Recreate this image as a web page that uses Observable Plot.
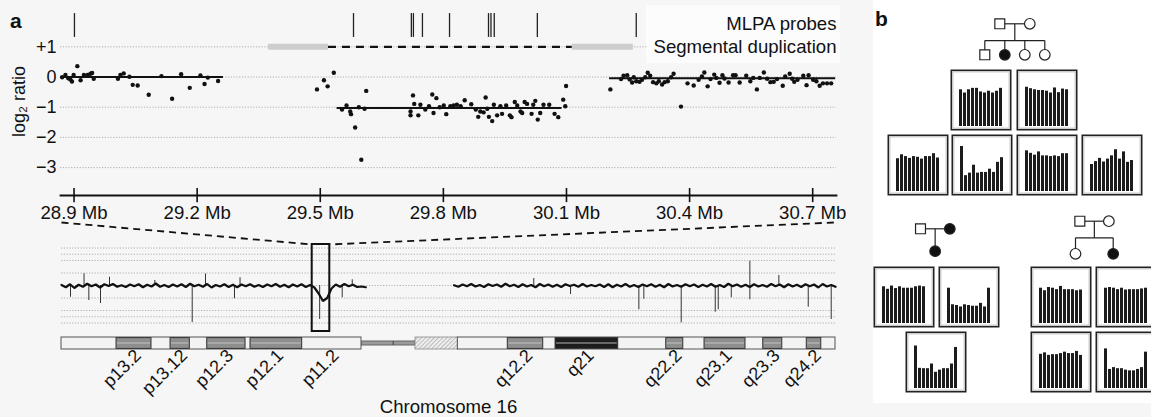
<!DOCTYPE html>
<html><head><meta charset="utf-8">
<script src="https://cdn.jsdelivr.net/npm/d3@7"></script>
<script src="https://cdn.jsdelivr.net/npm/@observablehq/plot@0.6"></script>
<style>
html,body{margin:0;padding:0;background:#f6f6f6;}
#fig{position:relative;width:1151px;height:417px;overflow:hidden;font-family:"Liberation Sans",Arial,Helvetica,sans-serif;}
#fig svg{overflow:visible;}
.lab{position:absolute;font-weight:900;font-size:21px;line-height:1;color:#111;}
.bg{position:absolute;background:#fff;}
</style></head><body><div id="fig"></div>
<script>
// ---------- DATA ----------
// top panel: array CGH probes (position in Mb, log2 ratio)
const probeMb = [28.871,28.879,28.886,28.891,28.895,28.899,28.908,28.916,28.924,28.933,28.940,28.944,28.948,29.007,29.013,29.021,29.035,29.043,29.055,29.082,29.113,29.139,29.161,29.182,29.208,29.218,29.226,29.251,
29.492,29.509,29.518,29.533,29.553,29.564,29.573,29.575,29.585,29.594,29.600,29.608,29.612,29.720,29.720,29.726,29.729,29.739,29.744,29.756,29.765,29.773,29.776,29.783,29.791,29.801,29.807,29.817,29.825,29.833,29.842,29.852,29.868,29.879,29.885,29.890,29.898,29.903,29.907,29.911,29.919,29.923,29.931,29.939,29.943,29.953,29.962,29.966,29.974,29.980,29.988,29.992,29.998,30.004,30.015,30.019,30.024,30.030,30.036,30.044,30.058,30.071,30.080,30.092,30.097,30.099,
30.207,30.233,30.239,30.248,30.254,30.260,30.264,30.270,30.278,30.284,30.292,30.298,30.304,30.311,30.319,30.325,30.333,30.339,30.347,30.355,30.361,30.379,30.395,30.410,30.422,30.430,30.436,30.444,30.451,30.460,30.465,30.473,30.480,30.485,30.495,30.506,30.512,30.522,30.538,30.548,30.555,30.564,30.571,30.581,30.589,30.597,30.605,30.613,30.627,30.633,30.644,30.650,30.655,30.663,30.677,30.685,30.690,30.701,30.709,30.717,30.725,30.735,30.745];
const probeLog2 = [-0.01,0.07,-0.04,-0.08,-0.15,0.07,0.36,-0.11,0.07,0.07,0.11,0.13,-0.06,-0.06,0.07,0.12,0.01,-0.26,-0.28,-0.59,0.03,-0.72,0.09,-0.36,0.05,-0.23,-0.02,-0.13,
-0.41,-0.11,-0.31,0.14,-1.08,-0.94,-1.14,-1.23,-1.67,-1.00,-2.74,-1.05,-0.46,-1.14,-1.27,-0.61,-0.89,-1.27,-0.92,-1.08,-0.97,-0.58,-1.19,-0.70,-1.00,-0.94,-1.23,-0.97,-0.94,-0.92,-0.97,-0.77,-0.90,-1.08,-1.32,-1.14,-1.17,-0.68,-1.05,-1.32,-1.46,-0.92,-1.27,-0.97,-1.22,-0.94,-1.27,-1.33,-0.83,-0.94,-1.14,-1.19,-0.83,-0.89,-1.22,-0.92,-0.79,-1.41,-1.19,-0.92,-0.92,-1.22,-1.33,-0.75,-0.97,-0.30,
-0.41,-0.07,0.04,0.06,-0.08,-0.18,-0.01,-0.14,-0.16,-0.09,-0.01,0.14,0.04,-0.17,-0.21,-0.14,-0.25,-0.17,-0.14,-0.01,0.11,-0.98,-0.21,-0.28,-0.09,0.02,0.15,-0.31,-0.07,0.08,-0.03,-0.19,0.06,-0.05,-0.18,0.06,0.06,-0.18,0.04,-0.14,-0.03,-0.41,-0.03,0.15,-0.06,-0.17,-0.16,-0.07,-0.29,0.02,0.11,-0.06,-0.16,-0.09,0.04,-0.27,0.06,-0.09,-0.14,-0.29,-0.21,-0.21,-0.21];
// segmentation means
const segStart = [28.869, 29.541, 30.205];
const segEnd   = [29.264, 30.089, 30.756];
const segMean  = [0, -1.03, -0.04];
// MLPA probe positions (Mb)
const mlpaMb = [28.901, 29.581, 29.722, 29.727, 29.749, 29.815, 29.910, 29.916, 29.924, 30.029, 30.270];
// segmental duplications (Mb) and the deleted span between them
const segdupStart = [29.374, 30.114];
const segdupEnd   = [29.520, 30.263];
const delSpan = [29.520, 30.114];
const xTicksMb = [28.9, 29.2, 29.5, 29.8, 30.1, 30.4, 30.7];
const yTicksLog2 = [1, 0, -1, -2, -3];
const trackNames = ["MLPA probes", "Segmental duplication"];
const trackLevels = [1.74, 1.0];

// chromosome 16 overview trace (Mb, log2 ratio), sampled every 0.5 Mb
const pArmStart = 0, qArmStart = 45.8, traceStep = 0.5;
const pArmLog2 = [0.02,-0.07,0.05,-0.10,0.03,-0.05,0.07,-0.03,0.04,-0.08,
0.05,-0.02,0.06,-0.05,0.01,-0.06,0.04,-0.03,0.05,-0.07,
0.03,-0.04,0.08,-0.05,0.02,-0.06,0.04,-0.04,0.05,-0.06,
0.07,-0.03,0.03,-0.05,0.06,-0.08,0.02,-0.04,0.05,-0.06,
0.03,-0.07,0.04,-0.03,0.05,-0.05,0.02,-0.06,0.04,-0.03,
0.06,-0.05,0.03,-0.07,0.04,-0.04,0.05,-0.06,0.02,-0.08,
-0.32,-0.62,-0.50,-0.12,0.04,-0.05,0.06,-0.03,0.03,-0.06,
-0.04,-0.07];
const qArmLog2 = [0.01,-0.05,0.04,-0.03,0.06,-0.04,0.02,-0.06,0.05,-0.02,
0.04,-0.05,0.07,-0.03,0.03,-0.06,0.05,-0.04,0.02,-0.07,
0.06,-0.03,0.04,-0.05,0.03,-0.06,0.05,-0.02,0.03,-0.05,
0.06,-0.04,0.02,-0.03,0.04,-0.06,0.05,-0.07,0.03,-0.04,
0.06,-0.05,0.02,-0.06,0.04,-0.03,0.05,-0.05,0.03,-0.07,
0.06,-0.04,0.02,-0.05,0.05,-0.03,0.04,-0.06,0.03,-0.04,
0.06,-0.05,0.02,-0.06,0.07,-0.03,0.04,-0.05,0.03,-0.06,
0.05,-0.04,0.02,-0.05,0.06,-0.03,0.04,-0.07,0.05,-0.04,
0.03,-0.06,0.05,-0.03,0.04,-0.08,0.06,-0.04,0.02,-0.05];
const spikeMb   = [1.05,2.63,3.19,4.55,5.60,10.89,15.25,16.80,20.18,20.83,30.12,32.75,33.92,55.1,59.39,67.36,67.94,72.30,76.27,76.62,78.14,80.31,80.31,83.69,87.12,89.80];
const spikeLog2 = [-0.47,0.47,-0.60,-0.72,0.33,0.20,-1.48,0.46,-0.53,0.31,-1.36,-0.49,0.23,0.28,-0.36,-0.97,-0.55,-1.49,-1.07,-0.97,-0.49,0.97,-0.57,0.40,-0.87,-1.36];
const traceGrid = [1.5, 1.25, 1, 0.5, 0, -0.5, -1, -1.25, -1.5];
const chrLength = 90.3;
const zoomRegion = [29.25, 31.3];

// ideogram (Mb)
const armStart = [0, 46.24], armEnd = [35.0, 90.3];
const cenStart = 35.0, cenEnd = 41.3, hetEnd = 46.24;
const bandName  = ["p13.2","p13.12","p12.3","p12.1","p11.2","q12.2","q21","q22.2","q23.1","q23.3","q24.2"];
const bandStart = [6.42, 12.72, 17.0, 22.05, 28.08, 52.07, 57.64, 70.55, 75.02, 81.87, 86.95];
const bandEnd   = [10.5, 14.97, 21.47, 28.08, 35.0, 56.2, 64.95, 72.54, 79.8, 84.09, 88.64];
const bandStain = ["gpos","gpos","gpos","gpos","gneg","gpos","gpos100","gpos","gpos","gpos","gpos"];

// panel b: MLPA relative probe ratios (11 probes per individual)
const fam1Father  = [1.02,0.93,1.02,1.06,1.06,0.96,0.93,0.98,0.93,0.98,1.06];
const fam1Mother  = [1.09,1.05,1.02,1.00,1.00,0.98,0.93,1.07,0.94,1.04,1.02];
const fam1Son     = [0.91,1.02,0.97,0.92,0.97,0.95,0.90,0.97,0.97,1.05,0.93];
const fam1Proband = [1.25,0.44,0.51,0.73,0.51,0.53,0.53,0.62,0.53,0.81,0.94];
const fam1Dau2    = [1.13,1.06,1.01,1.10,0.99,0.99,0.97,0.99,0.97,1.05,1.05];
const fam1Dau3    = [0.75,0.83,0.92,0.82,0.90,0.99,1.16,0.90,1.10,0.81,0.86];
const fam2Father  = [1.02,0.95,1.04,0.97,1.02,0.98,0.98,0.98,1.02,1.04,1.02];
const fam2Mother  = [0.98,0.52,0.50,0.46,0.52,0.50,0.48,0.48,0.56,0.46,0.98];
const fam2Child   = [1.18,0.56,0.55,0.55,0.68,0.45,0.51,0.55,0.55,0.68,1.14];
const fam3Father  = [0.98,0.91,1.00,0.98,0.94,1.03,0.94,0.94,0.94,0.91,0.93];
const fam3Mother  = [0.98,1.00,0.98,0.94,0.98,0.93,0.94,0.94,0.94,0.96,0.98];
const fam3Child1  = [0.95,0.99,0.92,0.94,0.94,0.97,1.01,0.97,0.97,1.03,0.92];
const fam3Child2  = [1.10,0.53,0.58,0.55,0.55,0.51,0.49,0.49,0.53,0.58,1.01];

// pedigrees: position in sibship units, generation, sex, affected
const ped1 = [{x:0.75,g:0,sex:"M"},{x:2.25,g:0,sex:"F"},{x:0,g:1,sex:"M"},{x:1,g:1,sex:"F",aff:true},{x:2,g:1,sex:"F"},{x:3,g:1,sex:"F"}];
const ped2 = [{x:0,g:0,sex:"M"},{x:1,g:0,sex:"F",aff:true},{x:0.5,g:1,sex:"F",aff:true}];
const ped3 = [{x:0.115,g:0,sex:"M"},{x:0.885,g:0,sex:"F"},{x:0,g:1,sex:"F"},{x:1,g:1,sex:"F",aff:true}];

// ---------- LAYOUT / RENDER ----------
const fig = document.getElementById("fig");
const FONT = "Liberation Sans, Arial, Helvetica, sans-serif";
const baseStyle = {background:"transparent", fontFamily:FONT, overflow:"visible", color:"#111"};
function place(el, left, top){ el.style.position="absolute"; el.style.left=left+"px"; el.style.top=top+"px"; el.style.maxWidth="none"; fig.appendChild(el); return el; }
function div(cls, left, top, w, h, txt){ const d=document.createElement("div"); d.className=cls; if(w!=null){d.style.width=w+"px"; d.style.height=h+"px";} if(txt) d.textContent=txt; return place(d,left,top); }

div("bg", 873, 0, 278, 403);
const lb = div("bg", 646, 5, 194, 58); lb.style.background="#fcfcfc";

const dotted = {stroke:"#a8a8a8", strokeWidth:0.9, strokeDasharray:"1.2,1.6"};
const xLo = 28.867, xHi = 30.758;
const pts = probeMb.map((p,i)=>({p, v:probeLog2[i]}));
const segs = segStart.map((s,i)=>({s, e:segEnd[i], m:segMean[i]}));
const sdups = segdupStart.map((s,i)=>({s, e:segdupEnd[i]}));
const tracks = trackNames.map((n,i)=>({n, y:trackLevels[i]}));

const topPlot = Plot.plot({
  width:850, height:225, marginLeft:60, marginRight:14, marginTop:0, marginBottom:30,
  style:{...baseStyle, fontSize:"16px"},
  x:{domain:[xLo,xHi]},
  y:{domain:[-3,1], range:[167.1,46.3]},
  marks:[
    Plot.ruleY(yTicksLog2.filter(v=>v!==1), {x1:xLo, x2:xHi, ...dotted}),
    Plot.ruleY([1], {x1:xLo, x2:segdupEnd[1]+0.037, ...dotted}),
    Plot.ruleX(mlpaMb, {y1:1.31, y2:2.10, stroke:"#222", strokeWidth:1.3}),
    Plot.ruleY(sdups, {x1:"s", x2:"e", y:1, stroke:"#cdcdcd", strokeWidth:6}),
    Plot.ruleY([delSpan], {x1:d=>d[0], x2:d=>d[1], y:1, stroke:"#111", strokeWidth:2.2, strokeDasharray:"8,6"}),
    Plot.text(tracks, {y:"y", text:"n", frameAnchor:"right", textAnchor:"end", fontSize:18.6, fill:"#111"}),
    Plot.ruleY(segs, {x1:"s", x2:"e", y:"m", stroke:"#111", strokeWidth:2}),
    Plot.dot(pts, {x:"p", y:"v", r:2.2, fill:"#111"}),
    Plot.axisY(yTicksLog2, {tickSize:0, tickPadding:4, fontSize:18, label:null,
      tickFormat:d=> d>0 ? "+"+d : d<0 ? "\u2212"+(-d) : "0"}),
    Plot.text(["log\u2082 ratio"], {frameAnchor:"left", y:-0.81, dx:-41, rotate:-90, textAnchor:"middle", fontSize:18}),
    Plot.frame({anchor:"bottom", strokeWidth:1.8, stroke:"#111"}),
    Plot.ruleX(xTicksMb, {y1:-3.69, y2:-4.16, stroke:"#111", strokeWidth:1.6}),
    Plot.axisX(xTicksMb, {tickSize:0, tickPadding:10, fontSize:18.6, label:null, tickFormat:d=>d.toFixed(1)+" Mb"})
  ]
});
place(topPlot, 0, 0);

// chromosome overview trace
const pTrace = pArmLog2.map((v,i)=>({p:pArmStart+i*traceStep, v}));
const qTrace = qArmLog2.map((v,i)=>({p:qArmStart+i*traceStep, v}));
const spikes = spikeMb.map((p,i)=>({p, v:spikeLog2[i]}));
const links = [{x1:0, x2:zoomRegion[0]}, {x1:90.1, x2:zoomRegion[1]}];
const tracePlot = Plot.plot({
  width:850, height:120, marginLeft:61, marginRight:15, marginTop:0, marginBottom:0,
  style:{...baseStyle},
  x:{domain:[0,chrLength], axis:null},
  y:{domain:[-2,2], range:[120,20], axis:null},
  marks:[
    Plot.ruleY(traceGrid, {x1:0, x2:chrLength, ...dotted}),
    Plot.ruleX(spikes, {x:"p", y1:0, y2:"v", stroke:"#333", strokeWidth:1}),
    Plot.line(pTrace, {x:"p", y:"v", stroke:"#111", strokeWidth:2.2, strokeLinejoin:"bevel"}),
    Plot.line(qTrace, {x:"p", y:"v", stroke:"#111", strokeWidth:2.2, strokeLinejoin:"bevel"}),
    Plot.rect([zoomRegion], {x1:d=>d[0], x2:d=>d[1], y1:1.64, y2:-1.84, fill:"none", stroke:"#111", strokeWidth:2}),
    Plot.link(links, {x1:"x1", x2:"x2", y1:2.52, y2:1.64, stroke:"#111", strokeWidth:1.8, strokeDasharray:"7,5"})
  ]
});
place(tracePlot, 0, 215);

// ideogram
const arms = armStart.map((s,i)=>({s, e:armEnd[i]}));
const bands = bandName.map((n,i)=>({n, s:bandStart[i], e:bandEnd[i], stain:bandStain[i]}));
const stained = bands.filter(b=>b.stain!=="gneg");
const ideo = Plot.plot({
  width:850, height:87, marginLeft:61, marginRight:15, marginTop:0, marginBottom:10,
  style:{...baseStyle},
  x:{domain:[0,chrLength], axis:null},
  y:{domain:[0,1], range:[7,19], axis:null},
  marks:[
    Plot.rect([[cenStart,cenEnd]], {x1:d=>d[0], x2:d=>d[1], y1:0.33, y2:0.67, fill:"#9a9a9a", stroke:"#555", strokeWidth:0.8}),
    Plot.ruleX([(cenStart+cenEnd)/2 + 0.55], {y1:0.33, y2:0.67, stroke:"#444"}),
    Plot.rect([[cenEnd,hetEnd]], {x1:d=>d[0], x2:d=>d[1], y1:0, y2:1, fill:"url(#hatch16)", stroke:"#888", strokeWidth:0.8}),
    Plot.rect(arms, {x1:"s", x2:"e", y1:0, y2:1, fill:"#f3f3f3", stroke:"#555", strokeWidth:1}),
    Plot.rect(stained, {x1:"s", x2:"e", y1:0.05, y2:0.95, fill:d=>d.stain==="gpos100"?"#1c1c1c":"#8e8e8e", stroke:"#333", strokeWidth:1}),
    Plot.rect(stained, {x1:"s", x2:"e", y1:0.42, y2:0.58, fill:d=>d.stain==="gpos100"?"#6a6a6a":"#a9a9a9", insetLeft:1, insetRight:1}),
    Plot.text(bands, {x:d=>(d.s+d.e)/2, y:1, text:"n", rotate:-45, textAnchor:"end", dx:4, dy:3, fontSize:18, fill:"#111"}),
    Plot.text(["Chromosome 16"], {frameAnchor:"bottom", lineAnchor:"middle", fontSize:18.6, fill:"#111"})
  ]
});
const ns = "http://www.w3.org/2000/svg";
const defs = document.createElementNS(ns,"defs");
defs.innerHTML = '<pattern id="hatch16" width="3" height="3" patternUnits="userSpaceOnUse" patternTransform="rotate(45)"><rect width="3" height="3" fill="#eeeeee"/><line x1="0" y1="0" x2="0" y2="3" stroke="#8a8a8a" stroke-width="1"/></pattern>';
ideo.insertBefore(defs, ideo.firstChild);
place(ideo, 0, 330);

// pedigrees
function pedigree(people, sibY, xdom, xr, yr, w, h){
  const parents = people.filter(d=>d.g===0), kids = people.filter(d=>d.g===1);
  const mid = (parents[0].x+parents[1].x)/2;
  const lines = [{x1:parents[0].x, y1:0, x2:parents[1].x, y2:0}];
  if (sibY==null) lines.push({x1:mid, y1:0, x2:mid, y2:1});
  else {
    lines.push({x1:mid, y1:0, x2:mid, y2:sibY});
    lines.push({x1:d3.min(kids,d=>d.x), y1:sibY, x2:d3.max(kids,d=>d.x), y2:sibY});
    kids.forEach(k=>lines.push({x1:k.x, y1:sibY, x2:k.x, y2:1}));
  }
  const sym = {stroke:"#222", strokeWidth:1.2, r:5.6};
  return Plot.plot({
    width:w, height:h, margin:0, style:{...baseStyle},
    x:{domain:xdom, range:xr, axis:null}, y:{domain:[0,1], range:yr, axis:null},
    marks:[
      Plot.link(lines, {x1:"x1", y1:"y1", x2:"x2", y2:"y2", stroke:"#222", strokeWidth:1.2}),
      Plot.dot(people.filter(d=>d.sex==="M"&&!d.aff), {x:"x", y:"g", symbol:"square", fill:"#fff", ...sym}),
      Plot.dot(people.filter(d=>d.sex==="F"&&!d.aff), {x:"x", y:"g", symbol:"circle", fill:"#fff", ...sym, r:5.3}),
      Plot.dot(people.filter(d=>d.sex==="F"&&d.aff), {x:"x", y:"g", symbol:"circle", fill:"#111", ...sym, r:5.3})
    ]
  });
}
place(pedigree(ped1, 0.54, [0,3], [24.3,84.3], [23.3,54.3], 110, 70), 960, 0);
place(pedigree(ped2, null, [0,1], [30,59.3], [28.3,50.7], 90, 70), 890, 200);
place(pedigree(ped3, 0.51, [0,1], [25,62.7], [20.7,53.3], 90, 70), 1050, 200);

// MLPA bar boxes
function barBox(vals){
  return Plot.plot({
    width:61, height:61, margin:0, style:{...baseStyle},
    x:{type:"band", domain:d3.range(vals.length), range:[4.5,57], padding:0.2, axis:null},
    y:{domain:[0,1], range:[57,21], axis:null},
    marks:[
      Plot.frame({stroke:"#222", strokeWidth:1.6, inset:0.8, fill:"#fff"}),
      Plot.frame({stroke:"#b0b0b0", strokeWidth:0.8, inset:2.4}),
      Plot.barY(vals.map((v,i)=>({i,v})), {x:"i", y:"v", fill:"#1c1c1c"})
    ]
  });
}
const boxes = [
  [fam1Father, 950, 69], [fam1Mother, 1015.5, 69],
  [fam1Son, 886.5, 133.5], [fam1Proband, 951, 133.5], [fam1Dau2, 1015.5, 133.5], [fam1Dau3, 1081, 133.5],
  [fam2Father, 873, 266], [fam2Mother, 937.5, 266], [fam2Child, 905, 331],
  [fam3Father, 1030, 266], [fam3Mother, 1095, 266], [fam3Child1, 1030, 330.5], [fam3Child2, 1095, 330.5]
];
boxes.forEach(([v,l,t])=>place(barBox(v), l, t));

div("lab", 10, 10, null, null, "a");
div("lab", 875, 8, null, null, "b");
</script></body></html>
